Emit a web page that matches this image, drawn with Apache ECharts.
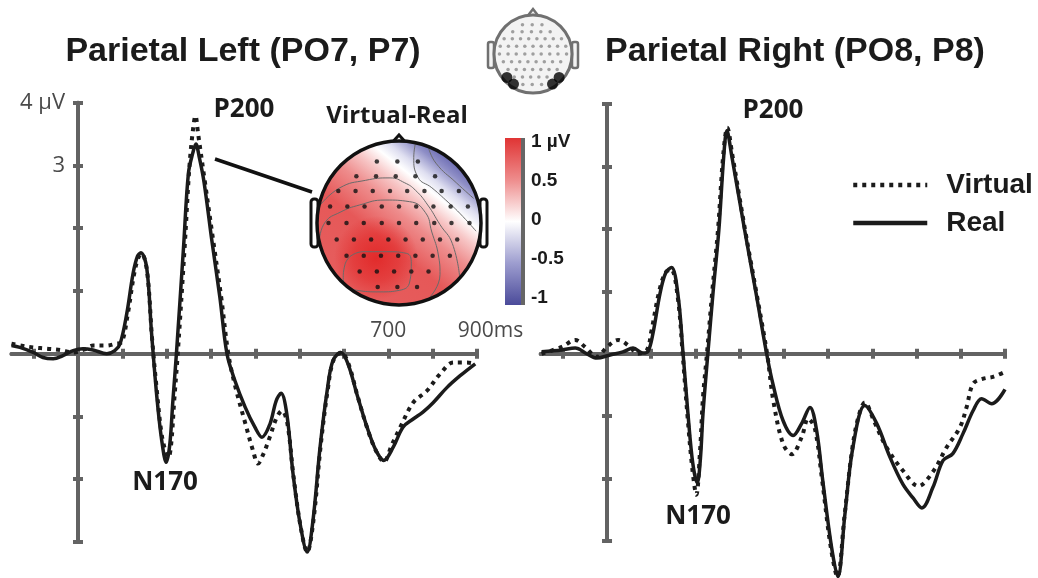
<!DOCTYPE html>
<html>
<head>
<meta charset="utf-8">
<title>Parietal ERP: Virtual vs Real</title>
<script src="https://cdn.jsdelivr.net/npm/echarts@6/dist/echarts.min.js"></script>
<style>
  html, body { margin: 0; padding: 0; background: #fff; }
  #chart { width: 1038px; height: 578px; }
</style>
</head>
<body>
<div id="chart"></div>
<script>
const ink = '#1b1b1b';
const axisGrey = '#636363';

// x ticks every 100 ms, only two labels are printed on the left panel
const xTicks = [-100, 0, 100, 200, 300, 400, 500, 600, 700, 800, 900];
const xLabelValues = [700, 900];
const yLabelValues = [3, 4];

// [ms, µV]
const leftReal = [
  [-150,0.13],[-131,0.1],[-101,0.02],[-79,-0.06],[-56,-0.08],[-34,-0.03],[-11,0.05],[11,0.08],[34,0.06],
  [65,0.0],[83,0.05],[95,0.16],[110,0.64],[124,1.27],[134,1.55],[142,1.61],[155,1.37],[166,0.32],
  [178,-0.7],[189,-1.39],[199,-1.73],[207,-1.45],[214,-0.75],[222,0],[238,1.69],[249,2.87],[259,3.2],
  [266,3.34],[273,3.15],[284,2.75],[302,1.8],[320,0.9],[336,0],[354,-0.43],[377,-0.85],[399,-1.17],
  [415,-1.33],[433,-1.12],[447,-0.75],[458,-0.63],[471,-0.96],[485,-1.91],[501,-2.71],[517,-3.16],
  [530,-2.66],[546,-1.49],[562,-0.59],[575,-0.11],[593,0.02],[609,-0.16],[629,-0.64],[652,-1.17],
  [672,-1.54],[690,-1.7],[711,-1.49],[733,-1.17],[756,-1.04],[778,-0.93],[801,-0.78],[832,-0.54],
  [862,-0.35],[896,-0.16]
];
const leftVirtual = [
  [-150,0.16],[-120,0.12],[-100,0.1],[-70,0.08],[-40,0.06],[-12,0.02],[15,0.07],[34,0.13],[65,0.13],
  [85,0.16],[98,0.18],[112,0.62],[126,1.25],[136,1.53],[144,1.59],[156,1.3],[167,0.25],[178,-0.6],
  [189,-1.3],[200,-1.62],[204,-1.65],[210,-1.45],[217,-0.75],[225,0],[241,1.75],[251,2.95],[259,3.55],
  [265,3.79],[271,3.5],[286,2.75],[305,1.8],[323,0.9],[339,0],[354,-0.5],[377,-1.1],[395,-1.55],
  [406,-1.75],[418,-1.6],[433,-1.32],[448,-1.02],[460,-0.91],[472,-1.1],[486,-1.95],[502,-2.75],
  [517,-3.16],[531,-2.66],[547,-1.49],[563,-0.59],[576,-0.11],[594,0.02],[610,-0.16],[630,-0.66],
  [653,-1.2],[673,-1.56],[690,-1.72],[708,-1.45],[727,-1.17],[756,-0.78],[787,-0.59],[817,-0.32],
  [847,-0.14],[877,-0.14],[896,-0.16]
];
const rightReal = [
  [-148,0.03],[-102,0.06],[-72,0.09],[-46,0],[-23,-0.07],[7,-0.02],[36,0.03],[59,0.09],[81,0.01],
  [93,0.04],[104,0.33],[120,0.97],[133,1.3],[146,1.38],[161,0.91],[172,0],[183,-0.96],[194,-1.76],
  [204,-2.07],[211,-1.7],[217,-0.96],[228,0],[240,1.0],[253,1.99],[264,3.17],[271,3.57],[282,3.17],
  [311,1.99],[337,0.97],[361,0],[375,-0.48],[398,-1.07],[421,-1.31],[440,-1.12],[459,-0.86],
  [474,-1.23],[488,-2.04],[508,-3.11],[522,-3.57],[538,-2.57],[556,-1.5],[583,-0.83],[610,-1.12],
  [640,-1.66],[669,-2.09],[692,-2.31],[712,-2.47],[737,-2.14],[760,-1.71],[782,-1.6],[805,-1.28],
  [828,-0.91],[847,-0.72],[870,-0.8],[900,-0.57]
];
const rightVirtual = [
  [-148,0],[-102,0.11],[-72,0.22],[-50,0.11],[-23,-0.05],[0,0.11],[25,0.22],[52,0.11],[68,0],
  [90,0.06],[100,0.35],[118,1.0],[132,1.3],[145,1.35],[160,0.9],[171,0],[182,-1.0],[193,-1.85],
  [202,-2.26],[210,-1.6],[217,-0.7],[226,0],[238,1.0],[251,1.99],[263,3.2],[272,3.62],[283,3.2],
  [312,1.99],[338,0.97],[362,0],[376,-0.75],[398,-1.44],[418,-1.61],[440,-1.34],[455,-1.04],
  [470,-1.2],[486,-2.0],[506,-3.1],[521,-3.57],[537,-2.6],[555,-1.5],[569,-1.0],[583,-0.78],
  [605,-1.1],[632,-1.5],[670,-1.88],[704,-2.12],[738,-1.88],[768,-1.5],[798,-1.18],[813,-0.86],
  [828,-0.48],[851,-0.4],[873,-0.37],[900,-0.29]
];

// electrode layout in head-radius units (rows front to back)
const elecRowsV = [0.75, 0.57, 0.39, 0.2, 0.0, -0.2, -0.4, -0.59, -0.78];
const elecRowsU = [
  [-0.27, -0.02, 0.23],
  [-0.52, -0.28, -0.04, 0.2, 0.44],
  [-0.74, -0.53, -0.32, -0.11, 0.1, 0.31, 0.52, 0.73],
  [-0.84, -0.63, -0.42, -0.21, 0.0, 0.21, 0.42, 0.63, 0.84],
  [-0.86, -0.64, -0.43, -0.21, 0.0, 0.21, 0.43, 0.64, 0.86],
  [-0.76, -0.55, -0.34, -0.13, 0.08, 0.29, 0.5, 0.71],
  [-0.64, -0.43, -0.22, -0.01, 0.2, 0.41, 0.62],
  [-0.48, -0.27, -0.06, 0.15, 0.36],
  [-0.26, -0.02, 0.22]
];
const parietalSites = [[-0.67,-0.6],[-0.5,-0.77],[0.67,-0.6],[0.5,-0.77]];

// Virtual-Real difference map contours
const contours = [
  [[-0.6,-0.41],[-0.44,-0.35],[-0.15,-0.35],[0.09,-0.37],[0.15,-0.49],[0.13,-0.72],[0.01,-0.82],
   [-0.23,-0.84],[-0.52,-0.82],[-0.68,-0.69],[-0.66,-0.51],[-0.6,-0.41]],
  [[-0.97,-0.2],[-0.9,0.01],[-0.72,0.13],[-0.48,0.22],[-0.17,0.28],[0.13,0.26],[0.32,0.13],
   [0.4,-0.11],[0.48,-0.39],[0.5,-0.63],[0.38,-0.9]],
  [[-0.96,0.22],[-0.72,0.43],[-0.41,0.52],[-0.11,0.55],[0.07,0.49],[0.2,0.4],[0.35,0.22],
   [0.5,-0.02],[0.65,-0.25],[0.74,-0.66]],
  [[0.2,0.97],[0.18,0.8],[0.23,0.56],[0.4,0.43],[0.57,0.28],[0.74,0.12],[0.94,-0.1]],
  [[0.36,0.92],[0.45,0.73],[0.7,0.49],[0.91,0.3]]
];

const electrodes = [];
elecRowsV.forEach((v, i) => elecRowsU[i].forEach(u => electrodes.push([u, v])));

const chart = echarts.init(document.getElementById('chart'));

function xAxisFor(gridIndex, zeroIdx, inner) {
  return {
    type: 'value', gridIndex, position: 'bottom', min: -150, max: 900,
    axisLine: { onZero: true, onZeroAxisIndex: zeroIdx, lineStyle: { color: axisGrey, width: 4 } },
    axisTick: { customValues: xTicks, inside: inner, length: 5, lineStyle: { color: axisGrey, width: 4 } },
    axisLabel: { show: false },
    splitLine: { show: false }
  };
}

function yAxisFor(gridIndex, zeroIdx, inner) {
  return {
    type: 'value', gridIndex, position: 'left', min: -3, max: 4, interval: 1,
    axisLine: { onZero: true, onZeroAxisIndex: zeroIdx, lineStyle: { color: axisGrey, width: 4 } },
    axisTick: { inside: inner, length: 5, lineStyle: { color: axisGrey, width: 4 } },
    axisLabel: { show: false },
    splitLine: { show: false }
  };
}

function erpSeries(name, data, axisIdx, dotted) {
  return {
    name, type: 'line', data, xAxisIndex: axisIdx, yAxisIndex: axisIdx,
    smooth: 0.35, symbol: 'none', clip: false, silent: true, color: ink,
    lineStyle: dotted ? { color: ink, width: 4, type: [4, 5], cap: 'butt' } : { color: ink, width: 3.5 },
    z: dotted ? 4 : 3
  };
}

function text(str, x, y, font) {
  return {
    type: 'text', x, y, z: 20,
    style: { text: str, font, fill: ink, align: 'center', verticalAlign: 'middle', textAlign: 'center', textVerticalAlign: 'middle' }
  };
}

const hidden = (gridIndex) => ({ type: 'value', gridIndex, min: -1, max: 1, show: false });
const noBounds = { outerBoundsMode: 'none', containLabel: false };

let option = {
  animation: false,
  backgroundColor: '#fff',
  grid: [
    { left: 11.5, top: 102.7, width: 465.5, height: 439.3, ...noBounds },
    { left: 540.7, top: 104, width: 464.3, height: 437, ...noBounds },
    { left: 317, top: 141, width: 164, height: 164, ...noBounds },
    { left: 505, top: 142, width: 16, height: 156, ...noBounds },
    { left: 494, top: 15, width: 78, height: 78, ...noBounds },
    // label carriers: bottom edge on the 0 µV line / left edge on 0 ms
    { left: 11.5, top: 102.7, width: 465.5, height: 250.9, ...noBounds },
    { left: 78, top: 102.7, width: 399, height: 439.3, ...noBounds }
  ],
  xAxis: [
    xAxisFor(0, 0, false),
    xAxisFor(0, 1, true),
    xAxisFor(1, 2, false),
    xAxisFor(1, 3, true),
    hidden(2),
    { type: 'value', gridIndex: 3, min: 0, max: 1, show: false },
    hidden(4),
    {
      type: 'value', gridIndex: 5, position: 'bottom', min: -150, max: 900,
      axisLine: { show: false, onZero: false }, axisTick: { show: false }, splitLine: { show: false },
      axisLabel: {
        customValues: xLabelValues, inside: true, margin: 12,
        color: '#4a4a4a', fontSize: 21, fontFamily: 'Open Sans',
        formatter: v => v === 900 ? '{pad| }900ms' : String(v),
        rich: { pad: { width: 27 } }
      }
    },
    { type: 'value', gridIndex: 6, min: -150, max: 900, show: false }
  ],
  yAxis: [
    yAxisFor(0, 0, false),
    yAxisFor(0, 1, true),
    yAxisFor(1, 2, false),
    yAxisFor(1, 3, true),
    hidden(2),
    {
      type: 'value', gridIndex: 3, min: -1, max: 1, interval: 0.5, position: 'right',
      axisLine: { show: false, onZero: false },
      axisTick: { show: false },
      axisLabel: {
        margin: 10, color: ink, fontSize: 19, fontWeight: 'bold', fontFamily: 'Liberation Sans',
        formatter: v => v === 1 ? '1 µV' : String(v)
      },
      splitLine: { show: false }
    },
    hidden(4),
    { type: 'value', gridIndex: 5, min: 0, max: 4, show: false },
    {
      type: 'value', gridIndex: 6, position: 'left', min: -3, max: 4, interval: 1,
      axisLine: { show: false, onZero: false }, axisTick: { show: false }, splitLine: { show: false },
      axisLabel: {
        customValues: yLabelValues, margin: 13,
        color: '#4a4a4a', fontSize: 22, fontFamily: 'Open Sans',
        formatter: v => v === 4 ? '4 µV' : String(v)
      }
    }
  ],
  legend: {
    left: 846, top: 166, orient: 'vertical',
    itemWidth: 74, itemHeight: 20, itemGap: 10,
    selectedMode: false,
    itemStyle: { opacity: 0 },
    lineStyle: { width: 4.5 },
    textStyle: { color: ink, fontSize: 28, fontWeight: 'bold', fontFamily: 'Liberation Sans', padding: [0, 0, 0, 14] },
    data: ['Virtual', 'Real']
  },
  series: [
    erpSeries('Real', leftReal, 0, false),
    erpSeries('Virtual', leftVirtual, 0, true),
    erpSeries('Real', rightReal, 2, false),
    erpSeries('Virtual', rightVirtual, 2, true),
    ...contours.map((c, i) => ({
      name: 'contour' + i, type: 'line', data: c, xAxisIndex: 4, yAxisIndex: 4,
      smooth: 0.5, symbol: 'none', silent: true, z: 5,
      lineStyle: { color: '#6a6a6a', width: 1 }
    })),
    {
      name: 'electrodes', type: 'scatter', data: electrodes, xAxisIndex: 4, yAxisIndex: 4,
      symbolSize: 4.5, itemStyle: { color: '#111' }, silent: true, z: 6
    },
    {
      name: 'iconDots', type: 'scatter', data: electrodes, xAxisIndex: 6, yAxisIndex: 6,
      symbolSize: 3.5, itemStyle: { color: '#8a8a8a' }, silent: true, z: 6
    },
    {
      name: 'iconSites', type: 'scatter', data: parietalSites, xAxisIndex: 6, yAxisIndex: 6,
      symbolSize: 11, itemStyle: { color: '#000' }, silent: true, z: 7
    }
  ],
  graphic: [
    // head icon
    { type: 'rect', z: 1, shape: { x: 488, y: 42, width: 6, height: 26, r: 2 }, style: { fill: '#f3f3f3', stroke: '#707070', lineWidth: 2.5 } },
    { type: 'rect', z: 1, shape: { x: 572, y: 42, width: 6, height: 26, r: 2 }, style: { fill: '#f3f3f3', stroke: '#707070', lineWidth: 2.5 } },
    { type: 'polygon', z: 1, shape: { points: [[526, 18], [533, 9], [540, 18]] }, style: { fill: '#f3f3f3', stroke: '#707070', lineWidth: 2.5 } },
    { type: 'circle', z: 1, shape: { cx: 533, cy: 54, r: 39 }, style: { fill: '#f3f3f3', stroke: '#707070', lineWidth: 3 } },
    // topomap
    { type: 'rect', z: 1, shape: { x: 311, y: 199, width: 7, height: 48, r: 3 }, style: { fill: '#fff', stroke: '#111', lineWidth: 3 } },
    { type: 'rect', z: 1, shape: { x: 480, y: 199, width: 7, height: 48, r: 3 }, style: { fill: '#fff', stroke: '#111', lineWidth: 3 } },
    { type: 'polygon', z: 1, shape: { points: [[389, 146], [399, 135], [409, 146]] }, style: { fill: '#fff', stroke: '#111', lineWidth: 3 } },
    {
      type: 'circle', z: 1, shape: { cx: 399, cy: 223, r: 82 },
      style: {
        fill: {
          type: 'linear', x: 0.85, y: 0.1, x2: 0.25, y2: 0.85,
          colorStops: [
            { offset: 0, color: '#5c5caa' }, { offset: 0.1, color: '#8e8ec6' },
            { offset: 0.2, color: '#dedef0' }, { offset: 0.27, color: '#ffffff' },
            { offset: 0.37, color: '#f7c6c6' }, { offset: 0.5, color: '#ee8c8c' },
            { offset: 0.7, color: '#e65858' }, { offset: 1, color: '#e65c5c' }
          ]
        }
      }
    },
    {
      type: 'circle', z: 2, shape: { cx: 376, cy: 258, r: 42 },
      style: {
        fill: {
          type: 'radial', x: 0.5, y: 0.5, r: 0.5,
          colorStops: [
            { offset: 0, color: 'rgba(225,35,35,0.85)' }, { offset: 0.55, color: 'rgba(225,35,35,0.5)' },
            { offset: 1, color: 'rgba(225,35,35,0)' }
          ]
        }
      }
    },
    { type: 'circle', z: 10, shape: { cx: 399, cy: 223, r: 82 }, style: { fill: 'none', stroke: '#111', lineWidth: 3.5 } },
    { type: 'line', z: 10, shape: { x1: 215, y1: 159, x2: 312, y2: 192 }, style: { stroke: '#111', lineWidth: 3.5 } },
    // colour bar
    {
      type: 'rect', z: 1, shape: { x: 505, y: 138, width: 16, height: 167 },
      style: {
        fill: {
          type: 'linear', x: 0, y: 0, x2: 0, y2: 1,
          colorStops: [
            { offset: 0, color: '#e03434' }, { offset: 0.25, color: '#ee8c8c' },
            { offset: 0.5, color: '#ffffff' }, { offset: 0.75, color: '#9d9dcf' },
            { offset: 1, color: '#4b4b9a' }
          ]
        }
      }
    },
    { type: 'rect', z: 2, shape: { x: 521, y: 138, width: 4, height: 167 }, style: { fill: '#666' } },
    // texts
    text('Parietal Left (PO7, P7)', 243, 52, 'bold 34px "Liberation Sans"'),
    text('Parietal Right (PO8, P8)', 795, 52, 'bold 34px "Liberation Sans"'),
    text('P200', 244, 110, 'bold 26px "Open Sans"'),
    text('P200', 773, 111, 'bold 26px "Open Sans"'),
    text('N170', 165, 483, 'bold 26px "Open Sans"'),
    text('N170', 698, 517, 'bold 26px "Open Sans"'),
    text('Virtual-Real', 397, 116, 'bold 24px "Open Sans"')
  ]
};

chart.setOption(option);
</script>
</body>
</html>
